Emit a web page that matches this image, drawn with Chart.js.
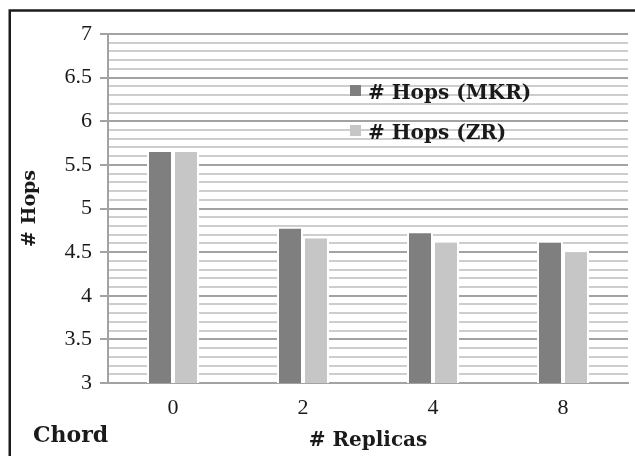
<!DOCTYPE html>
<html>
<head>
<meta charset="utf-8">
<script src="https://cdn.jsdelivr.net/npm/chart.js@4"></script>
<style>
  html, body { margin: 0; padding: 0; background: #fff; }
  canvas { display: block; }
</style>
</head>
<body>
<canvas id="chart" width="635" height="456"></canvas>
<script>
// Average hop count per lookup, by number of replicas
const replicas = ['0', '2', '4', '8'];
const hopsMKR = [5.67, 4.79, 4.74, 4.63];
const hopsZR = [5.67, 4.68, 4.63, 4.52];
const seriesLabels = ['# Hops (MKR)', '# Hops (ZR)'];
const seriesColors = ['#7f7f7f', '#c6c6c6'];

// Value axis: minor lines every 0.1, labelled lines every 0.5
const yMin = 3;
const yMax = 7;
const yMinorStep = 0.1;
const yLabelStep = 0.5;

const xTitle = '# Replicas';
const yTitle = '# Hops';
const cornerNote = 'Chord';

const MAJOR = '#a2a2a2';
const MINOR = '#cdcdcd';
const TEXT = '#1a1a1a';

const isLabelled = v => Math.abs(v / yLabelStep - Math.round(v / yLabelStep)) < 1e-6;
const tickVal = ctx => (ctx && ctx.tick ? ctx.tick.value : yMin);

// Page frame, in-plot legend and the corner note
const decorations = {
  id: 'decorations',
  beforeDraw(chart) {
    const c = chart.ctx;
    c.save();
    c.fillStyle = '#ffffff';
    c.fillRect(0, 0, chart.width, chart.height);
    c.strokeStyle = '#1c1c1c';
    c.lineWidth = 2.5;
    c.beginPath();
    c.moveTo(9.75, chart.height);
    c.lineTo(9.75, 10.5);
    c.lineTo(chart.width, 10.5);
    c.stroke();
    c.restore();
  },
  afterDatasetsDraw(chart) {
    const c = chart.ctx;
    c.save();
    c.font = 'bold 20px "DejaVu Serif"';
    c.textBaseline = 'alphabetic';
    c.textAlign = 'left';
    chart.data.datasets.forEach((ds, i) => {
      const cy = 90.5 + 40 * i;
      c.fillStyle = ds.backgroundColor;
      c.fillRect(350, cy - 5.5, 11, 11);
      c.fillStyle = TEXT;
      c.fillText(ds.label, 368, 99 + 40 * i);
    });
    c.restore();
  },
  afterDraw(chart) {
    const c = chart.ctx;
    c.save();
    c.font = 'bold 22px "DejaVu Serif"';
    c.fillStyle = TEXT;
    c.textBaseline = 'alphabetic';
    c.textAlign = 'left';
    c.fillText(cornerNote, 33, 442);
    c.restore();
  }
};

new Chart(document.getElementById('chart'), {
  type: 'bar',
  data: {
    labels: replicas,
    datasets: [
      { label: seriesLabels[0], data: hopsMKR, backgroundColor: seriesColors[0] },
      { label: seriesLabels[1], data: hopsZR, backgroundColor: seriesColors[1] }
    ]
  },
  options: {
    responsive: false,
    devicePixelRatio: 1,
    animation: false,
    layout: { padding: { top: 34, right: 7, left: 0, bottom: 0 } },
    datasets: {
      bar: {
        borderColor: '#ffffff',
        borderWidth: 2,
        categoryPercentage: 0.4,
        barPercentage: 1.0
      }
    },
    plugins: {
      legend: { display: false },
      tooltip: { enabled: false }
    },
    scales: {
      x: {
        afterFit: s => { s.height = 73; },
        grid: { display: false, drawTicks: false },
        border: { display: true, color: MAJOR, width: 2 },
        ticks: {
          padding: 12,
          color: TEXT,
          font: { family: '"Liberation Serif"', size: 22 }
        },
        title: {
          display: true,
          text: xTitle,
          color: TEXT,
          font: { family: '"DejaVu Serif"', weight: 'bold', size: 20 },
          padding: { top: 0, bottom: 3 }
        }
      },
      y: {
        min: yMin,
        max: yMax,
        afterFit: s => { s.width = 108; },
        grid: {
          color: ctx => isLabelled(tickVal(ctx)) ? MAJOR : MINOR,
          lineWidth: ctx => isLabelled(tickVal(ctx)) ? 2 : 2,
          tickColor: ctx => isLabelled(tickVal(ctx)) ? MAJOR : 'rgba(0,0,0,0)',
          tickLength: 8,
          drawTicks: true
        },
        border: { display: true, color: MAJOR, width: 2 },
        ticks: {
          stepSize: yMinorStep,
          maxTicksLimit: 100,
          autoSkip: false,
          padding: 8,
          color: TEXT,
          font: { family: '"Liberation Serif"', size: 22 },
          callback: v => isLabelled(v) ? String(Math.round(v * 10) / 10) : ''
        },
        title: {
          display: true,
          text: yTitle,
          color: TEXT,
          font: { family: '"DejaVu Serif"', weight: 'bold', size: 19 },
          padding: { top: 19, bottom: 0 }
        }
      }
    }
  },
  plugins: [decorations]
});
</script>
</body>
</html>
